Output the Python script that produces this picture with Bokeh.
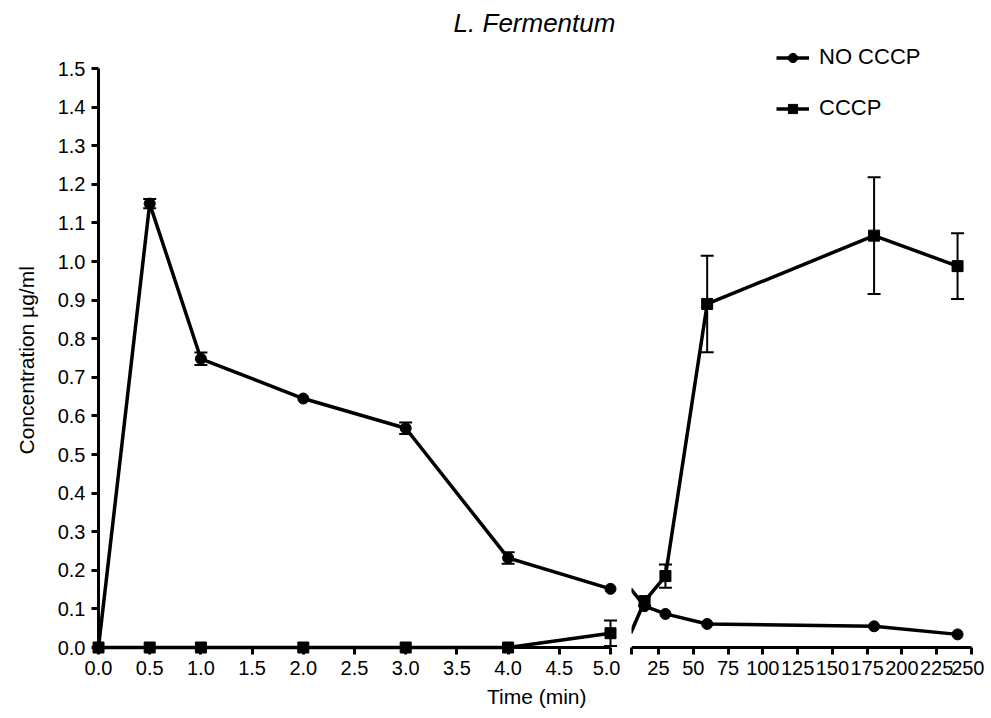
from bokeh.plotting import figure
from bokeh.models import (ColumnDataSource, Range1d, FixedTicker, PrintfTickFormatter,
                          Whisker, TeeHead, Title, Label, Legend, LegendItem)
from bokeh.layouts import row
from bokeh.embed import file_html
from bokeh.resources import INLINE

# ---------------- data ----------------
time_min = [0, 0.5, 1, 2, 3, 4, 5, 15, 30, 60, 180, 240]
no_cccp = [0, 1.15, 0.748, 0.645, 0.568, 0.232, 0.152, 0.107, 0.087, 0.061, 0.055, 0.034]
no_cccp_err = [0, 0.012, 0.016, 0, 0.015, 0.015, 0, 0, 0, 0, 0, 0]
cccp = [0, 0, 0, 0, 0, 0, 0.037, 0.12, 0.185, 0.89, 1.067, 0.988]
cccp_err = [0, 0, 0, 0, 0, 0, 0.033, 0.012, 0.03, 0.125, 0.151, 0.085]

left_ticks = [0.0, 0.5, 1.0, 1.5, 2.0, 2.5, 3.0, 3.5, 4.0, 4.5, 5.0]
right_ticks = [25, 50, 75, 100, 125, 150, 175, 200, 225, 250]
y_ticks = [0.0, 0.1, 0.2, 0.3, 0.4, 0.5, 0.6, 0.7, 0.8, 0.9, 1.0, 1.1, 1.2, 1.3, 1.4, 1.5]
series_names = ["NO CCCP", "CCCP"]
title_text = "L. Fermentum"
x_title = "Time (min)"
y_title = "Concentration \u00b5g/ml"

BREAK = 5.0
FONT = "Liberation Sans"
PX_Y = 386.0     # pixels per unit of concentration
PX_XL = 102.4    # pixels per minute, left panel
PX_XR = 1.391    # pixels per minute, right panel

# ---------------- helpers ----------------
def pick(cond):
    return [i for i, t in enumerate(time_min) if cond(t)]

def src(idx, vals):
    return ColumnDataSource(dict(t=[time_min[i] for i in idx], v=[vals[i] for i in idx]))

def whisker_src(idx, vals, errs):
    idx = [i for i in idx if errs[i] > 0]
    return ColumnDataSource(dict(
        base=[time_min[i] for i in idx],
        upper=[vals[i] + errs[i] for i in idx],
        lower=[vals[i] - errs[i] for i in idx]))

def style_axis(ax, ticks):
    ax.ticker = FixedTicker(ticks=ticks)
    ax.axis_line_color = None
    ax.major_tick_line_width = 3
    ax.major_tick_line_color = "black"
    ax.major_tick_in = 7
    ax.major_tick_out = 0
    ax.minor_tick_line_color = None
    ax.major_label_text_font = FONT
    ax.major_label_text_font_size = "20px"
    ax.major_label_text_color = "black"
    ax.major_label_standoff = 6

def add_series(p, idx_line, idx_pts, vals, errs, marker):
    ln = p.line("t", "v", source=src(idx_line, vals), line_width=3.5, line_color="black")
    sc = p.scatter("t", "v", source=src(idx_pts, vals), marker=marker, size=11,
                   fill_color="black", line_color="black")
    w = Whisker(source=whisker_src(idx_pts, vals, errs), base="base",
                upper="upper", lower="lower", dimension="height",
                line_width=2, line_color="black",
                upper_head=TeeHead(size=13, line_width=2, line_color="black"),
                lower_head=TeeHead(size=13, line_width=2, line_color="black"))
    p.add_layout(w)
    return ln, sc

# ---------------- geometry ----------------
frame_h = 654                        # frames run from the top of the page
zero_y = 647                         # pixel row of concentration 0
y_lo = -(frame_h - zero_y) / PX_Y    # frame bottom 7 px under the zero line
y_hi = zero_y / PX_Y
x_lo = -7 / PX_XL                    # frame left 7 px left of t = 0
fw1 = 527
r_start = 5.6
fw2 = 345
bottom = 64
y_range = Range1d(y_lo, y_hi)

# ---------------- left panel (0 - 5 min) ----------------
p1 = figure(frame_width=fw1, frame_height=frame_h, title=None,
            x_range=Range1d(x_lo, x_lo + fw1 / PX_XL), y_range=y_range,
            output_backend="svg", toolbar_location=None,
            min_border_left=90, min_border_right=2, min_border_top=0,
            min_border_bottom=bottom)
p1.outline_line_color = None
p1.grid.visible = False
style_axis(p1.xaxis[0], left_ticks)
p1.xaxis[0].formatter = PrintfTickFormatter(format="%.1f")
style_axis(p1.yaxis[0], y_ticks)
p1.yaxis[0].formatter = PrintfTickFormatter(format="%.1f")

# axis rules at the data zero lines
p1.line(x=[left_ticks[0], left_ticks[-1]], y=[y_ticks[0], y_ticks[0]], line_width=3, line_color="black")
p1.line(x=[left_ticks[0], left_ticks[0]], y=[y_ticks[0], y_ticks[-1]], line_width=3, line_color="black")

left_idx = pick(lambda t: t <= BREAK)
add_series(p1, left_idx, left_idx, no_cccp, no_cccp_err, "circle")
add_series(p1, left_idx, left_idx, cccp, cccp_err, "square")

p1.add_layout(Label(x=(533 - 97) / PX_XL, y=(zero_y - 22) / PX_Y, text=title_text,
                    text_font=FONT, text_font_size="26px", text_font_style="italic",
                    text_align="center", text_baseline="middle", text_color="black"))

p1.add_layout(Title(text=y_title, align="left", offset=200, vertical_align="top",
                    standoff=29, text_font=FONT, text_font_size="21px",
                    text_font_style="normal", text_color="black"), "left")

p1.add_layout(Title(text=x_title, align="right", offset=32, vertical_align="top",
                    standoff=14, text_font=FONT, text_font_size="21px",
                    text_font_style="normal", text_color="black"), "below")

# ---------------- right panel (after break) ----------------
p2 = figure(frame_width=fw2, frame_height=frame_h, title=None,
            x_range=Range1d(r_start, r_start + fw2 / PX_XR), y_range=y_range,
            output_backend="svg", toolbar_location=None, y_axis_location=None,
            min_border_left=11, min_border_right=8, min_border_top=0,
            min_border_bottom=bottom)
p2.outline_line_color = None
p2.grid.visible = False
style_axis(p2.xaxis[0], [r_start] + right_ticks)
p2.xaxis[0].major_label_overrides = {r_start: ""}
p2.line(x=[r_start, right_ticks[-1]], y=[y_ticks[0], y_ticks[0]], line_width=3, line_color="black")

line_idx = pick(lambda t: t >= BREAK)
pts_idx = pick(lambda t: t > BREAK)
l1, s1 = add_series(p2, line_idx, pts_idx, no_cccp, no_cccp_err, "circle")
l2, s2 = add_series(p2, line_idx, pts_idx, cccp, cccp_err, "square")

legend = Legend(items=[LegendItem(label=series_names[0], renderers=[l1, s1]),
                       LegendItem(label=series_names[1], renderers=[l2, s2])],
                location=(145, frame_h - 121), padding=0, margin=0, spacing=25,
                glyph_width=33, glyph_height=23, label_height=23, label_standoff=10,
                label_text_font=FONT, label_text_font_size="22px",
                label_text_color="black",
                border_line_color=None, background_fill_alpha=0)
p2.add_layout(legend)

layout = row(p1, p2)
open("out.html", "w").write(file_html(layout, INLINE))
